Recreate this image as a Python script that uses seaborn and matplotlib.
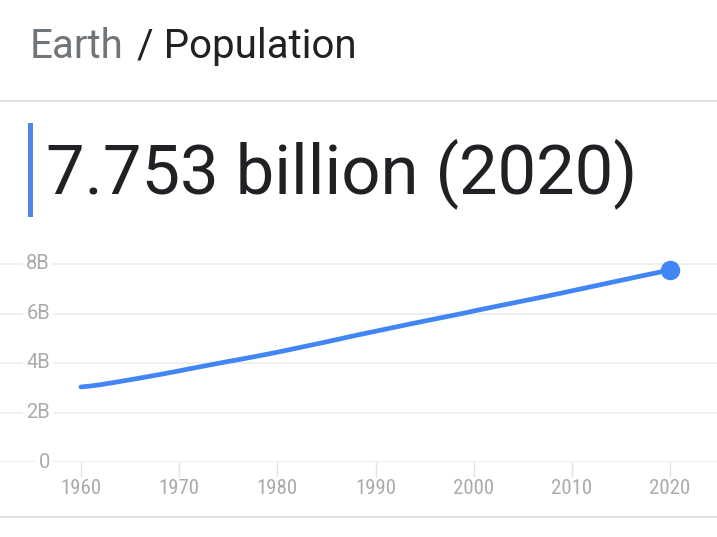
import matplotlib
matplotlib.use("Agg")
import matplotlib.pyplot as plt
import seaborn as sns
import pandas as pd
from matplotlib.lines import Line2D
from matplotlib.patches import Rectangle
from matplotlib.ticker import FixedLocator, FuncFormatter

# ---- data ----
years = list(range(1960, 2021))
population_b = [3.032, 3.071, 3.125, 3.189, 3.255, 3.322, 3.392, 3.462, 3.533, 3.607,
                3.682, 3.761, 3.837, 3.913, 3.988, 4.062, 4.134, 4.206, 4.281, 4.357,
                4.436, 4.519, 4.603, 4.686, 4.770, 4.855, 4.941, 5.029, 5.117, 5.200,
                5.282, 5.366, 5.449, 5.532, 5.614, 5.695, 5.775, 5.855, 5.934, 6.014,
                6.100, 6.183, 6.264, 6.345, 6.425, 6.505, 6.584, 6.665, 6.747, 6.830,
                6.915, 7.000, 7.085, 7.170, 7.255, 7.339, 7.424, 7.510, 7.594, 7.674,
                7.753]
x_ticks = [1960, 1970, 1980, 1990, 2000, 2010, 2020]
y_ticks = [0, 2, 4, 6, 8]
y_tick_labels = ["0", "2B", "4B", "6B", "8B"]
title_place = "Earth"
title_metric = "/ Population"
headline = "7.753 billion (2020)"

sns.set_theme(style="white")
plt.rcParams['font.family'] = ['Roboto', 'DejaVu Sans']

W, H = 717, 537
fig = plt.figure(figsize=(W / 100, H / 100), dpi=100)

def fx(px):
    return px / W

def fy(py):
    return 1 - py / H

# ---- axes ----
ax_bottom_px, ax_top_px = 462, 240
ax = fig.add_axes([0, fy(ax_bottom_px), 1, (ax_bottom_px - ax_top_px) / H])
df = pd.DataFrame({"year": years, "pop": population_b})
blue = "#4285F4"
sns.lineplot(data=df, x="year", y="pop", ax=ax, color=blue, linewidth=3.4,
             solid_capstyle="round")
ax.plot([years[-1]], [population_b[-1]], marker="o", markersize=13,
        color=blue, zorder=5)

px_per_year = (670 - 81) / 60
ax.set_xlim(1960 - 81 / px_per_year, 2020 + (W - 670) / px_per_year)
ax.set_ylim(0, (ax_bottom_px - ax_top_px) / 24.75)

for s in ax.spines.values():
    s.set_visible(False)

ax.set_xlabel("")
ax.set_ylabel("")
ax.xaxis.set_major_locator(FixedLocator(x_ticks))
ax.yaxis.set_major_locator(FixedLocator(y_ticks))
ax.yaxis.set_major_formatter(FuncFormatter(lambda v, p: y_tick_labels[y_ticks.index(int(round(v)))]))
ax.grid(axis="y", color="#ececec", linewidth=1.2)
ax.grid(axis="x", visible=False)

ax.tick_params(axis="x", bottom=True, length=11, width=1, color="#e3e3e3",
               direction="out", pad=1.5, labelsize=15, labelcolor="#ababab")
ax.tick_params(axis="y", left=False, length=0, pad=-36, labelsize=14.5,
               labelcolor="#ababab")
for lab in ax.get_xticklabels():
    lab.set_family(['Roboto Condensed', 'Liberation Sans Narrow', 'Roboto', 'DejaVu Sans'])
for lab in ax.get_yticklabels():
    lab.set_bbox(dict(facecolor="white", edgecolor="none", pad=2))
    lab.set_verticalalignment("center")

# ---- header ----
fig.text(fx(30), fy(58), title_place, fontsize=29, color="#70757a",
         ha="left", va="baseline")
fig.text(fx(137), fy(58), title_metric, fontsize=29, color="#202124",
         ha="left", va="baseline")

fig.add_artist(Line2D([0, 1], [fy(101), fy(101)], color="#dadce0", linewidth=1.2))
fig.add_artist(Line2D([0, 1], [fy(517), fy(517)], color="#dadce0", linewidth=1.2))

fig.add_artist(Rectangle((fx(28), fy(217)), fx(5), (217 - 123) / H,
                         facecolor="#4a86e8", edgecolor="none"))
fig.text(fx(46), fy(193), headline, fontsize=49.5, color="#202124",
         ha="left", va="baseline")

fig.savefig("out.png", dpi=100)
